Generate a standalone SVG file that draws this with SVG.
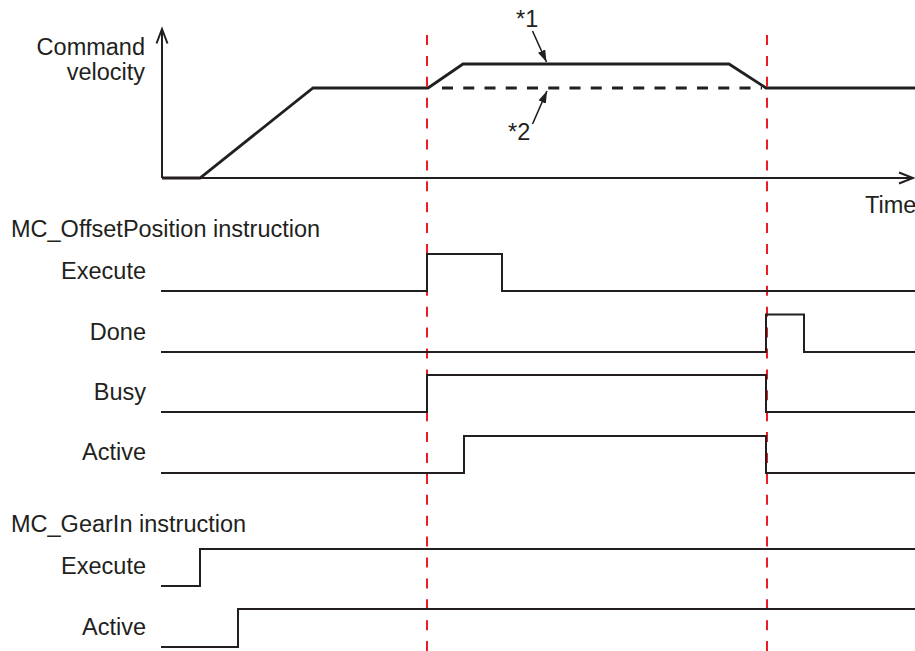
<svg xmlns="http://www.w3.org/2000/svg" width="915" height="651" viewBox="0 0 915 651">
<style>
text{font-family:"Liberation Sans",Arial,sans-serif;font-size:23.5px;fill:#231f20}
.lbl{text-anchor:end}
.sig{fill:none;stroke:#231f20;stroke-width:2}
.vel{fill:none;stroke:#231f20;stroke-width:2.8;stroke-linejoin:miter}
.axis{fill:none;stroke:#231f20;stroke-width:2}
.red{stroke:#ed1c24;stroke-width:2;stroke-dasharray:10 10.9}
.ptr{stroke:#231f20;stroke-width:1.6;fill:none}
</style>
<defs>
<marker id="tri" viewBox="0 0 12 8" refX="12" refY="4" markerWidth="12" markerHeight="8" markerUnits="userSpaceOnUse" orient="auto">
<path d="M0,0 L12,4 L0,8 Z" fill="#231f20"/>
</marker>
</defs>
<rect width="915" height="651" fill="#fff"/>
<g id="axes">
<path class="axis" d="M162,178 V29 M156.5,43.5 L162,29 L167.5,43.5"/>
<path class="axis" d="M162,178 H913 M899,172.5 L913,178 L899,183.5"/>
<text x="145" y="55" class="lbl">Command</text>
<text x="145" y="80" class="lbl">velocity</text>
<text x="865" y="213">Time</text>
</g>
<g id="velocity">
<path class="vel" d="M162,178 H200 L313,88 H428 L463,64 H729 L766,88 H915"/>
<path class="vel" d="M442,88 H762" stroke-dasharray="11 10.25"/>
</g>
<g id="annotations">
<text x="516" y="27">*1</text>
<line class="ptr" x1="532.5" y1="31" x2="546.5" y2="62" marker-end="url(#tri)"/>
<text x="508" y="140">*2</text>
<line class="ptr" x1="532.5" y1="124" x2="547" y2="91" marker-end="url(#tri)"/>
</g>
<g id="markers">
<line class="red" x1="427" y1="35" x2="427" y2="651"/>
<line class="red" x1="767" y1="35" x2="767" y2="651"/>
</g>
<g id="offset-position">
<text x="11" y="237">MC_OffsetPosition instruction</text>
<g id="op-execute">
<text x="146" y="279" class="lbl">Execute</text>
<path class="sig" d="M161,291 H427 V254 H502 V291 H915"/>
</g>
<g id="op-done">
<text x="146" y="340" class="lbl">Done</text>
<path class="sig" d="M161,352 H766 V314.5 H804 V352 H915"/>
</g>
<g id="op-busy">
<text x="146" y="400" class="lbl">Busy</text>
<path class="sig" d="M161,412 H427 V375 H766 V412 H915"/>
</g>
<g id="op-active">
<text x="146" y="460" class="lbl">Active</text>
<path class="sig" d="M161,473 H464 V436 H766 V473 H915"/>
</g>
</g>
<g id="gear-in">
<text x="11" y="532">MC_GearIn instruction</text>
<g id="gi-execute">
<text x="146" y="574" class="lbl">Execute</text>
<path class="sig" d="M161,586 H200 V549 H915"/>
</g>
<g id="gi-active">
<text x="146" y="635" class="lbl">Active</text>
<path class="sig" d="M161,647 H238 V609 H915"/>
</g>
</g>
</svg>
